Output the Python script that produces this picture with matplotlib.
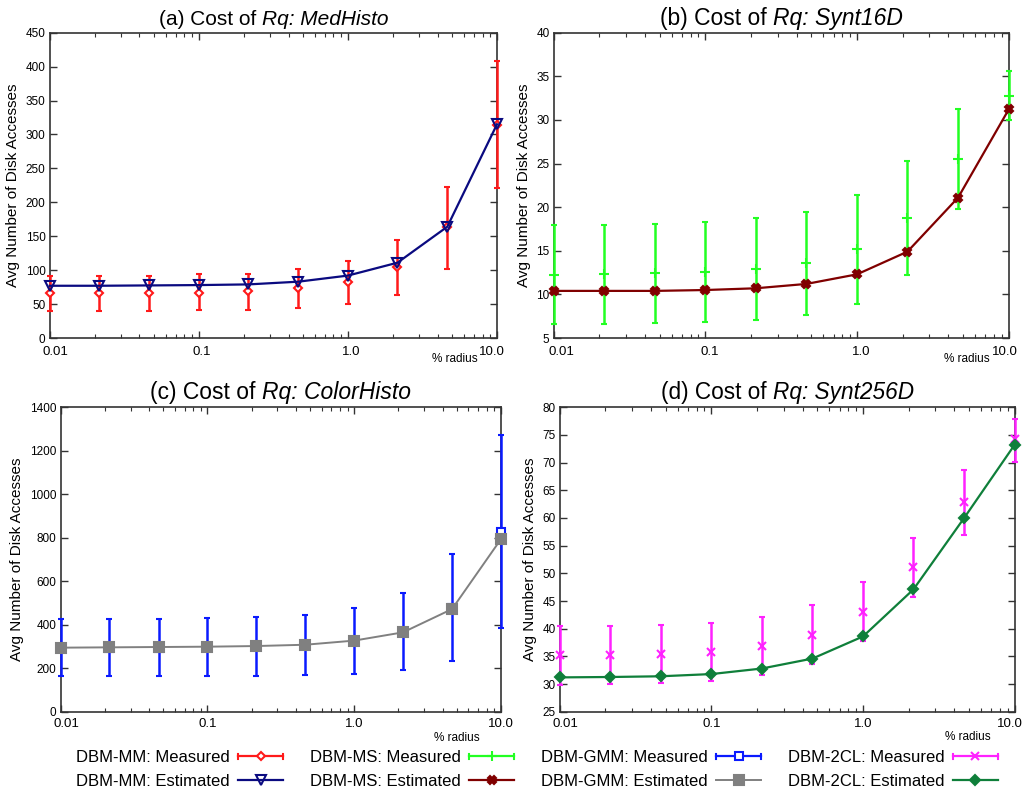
import matplotlib
matplotlib.use("Agg")
import matplotlib.pyplot as plt
from matplotlib.lines import Line2D
from matplotlib.legend_handler import HandlerBase
from matplotlib.ticker import FixedLocator, LogLocator, NullFormatter, MultipleLocator

plt.rcParams['font.family'] = ['Liberation Sans', 'DejaVu Sans']

# ---------------- data ----------------
radius = [0.01, 0.0215, 0.0464, 0.1, 0.215, 0.464, 1.0, 2.15, 4.64, 10.0]

# (a) MedHisto
mm_meas = [66, 66, 66, 67, 69, 73, 82, 104.5, 164, 314]
mm_lo = [40, 40, 40, 41, 42, 44.5, 50, 64, 102, 221]
mm_hi = [91, 91, 92, 94, 95, 101, 114, 145, 223, 409]
mm_est = [77, 77, 77.5, 78, 79, 83, 92, 111, 164, 315]

# (b) Synt16D
ms_meas = [12.25, 12.3, 12.4, 12.55, 12.9, 13.55, 15.15, 18.7, 25.5, 32.8]
ms_lo = [6.6, 6.6, 6.7, 6.8, 7.1, 7.6, 8.9, 12.2, 19.8, 30.0]
ms_hi = [17.9, 18.0, 18.1, 18.3, 18.7, 19.5, 21.45, 25.3, 31.2, 35.65]
ms_est = [10.4, 10.4, 10.4, 10.5, 10.7, 11.2, 12.3, 14.9, 21.1, 31.2]

# (c) ColorHisto
gmm_meas = [294, 294, 295, 297.5, 301, 307.5, 325, 368, 479, 828]
gmm_lo = [163, 163, 164, 164, 166, 169, 175, 192, 233, 386]
gmm_hi = [425, 425, 426, 431, 436, 446, 475, 544, 725, 1273]
gmm_est = [294.5, 296, 297.5, 299, 302, 308, 327, 365, 472, 794]

# (d) Synt256D
cl_meas = [35.2, 35.2, 35.4, 35.8, 36.8, 38.9, 43.0, 51.1, 62.8, 74.2]
cl_lo = [29.9, 30.0, 30.1, 30.5, 31.6, 33.55, 37.8, 45.8, 57.0, 70.2]
cl_hi = [40.4, 40.4, 40.7, 41.1, 42.1, 44.2, 48.4, 56.4, 68.7, 77.8]
cl_est = [31.2, 31.27, 31.4, 31.8, 32.8, 34.6, 38.6, 47.1, 60.0, 73.25]

xtick_vals = [0.01, 0.1, 1.0, 10.0]
xtick_labels = ['0.01', '0.1', '1.0', '10.0']

W, H = 1025, 790
fig = plt.figure(figsize=(W / 100, H / 100), dpi=100)
renderer = fig.canvas.get_renderer()


def add_ax(l, t, r, b):
    return fig.add_axes([l / W, 1 - b / H, (r - l) / W, (b - t) / H])


class HandlerCapLine(HandlerBase):
    def create_artists(self, legend, orig, xdescent, ydescent, width, height, fontsize, trans):
        y = (height - ydescent) / 2.0
        x0, x1 = -xdescent, width - xdescent
        col = orig.get_color()
        lw = orig.get_linewidth()
        c = 0.2 * height
        line = Line2D([x0, x1], [y, y], color=col, lw=lw)
        cap1 = Line2D([x0, x0], [y - c, y + c], color=col, lw=1.5)
        cap2 = Line2D([x1, x1], [y - c, y + c], color=col, lw=1.5)
        mk = Line2D([(x0 + x1) / 2], [y], ls='none', marker=orig.get_marker(), ms=orig.get_markersize(),
                    mfc=orig.get_markerfacecolor(), mec=orig.get_markeredgecolor(),
                    mew=orig.get_markeredgewidth())
        arts = [line, cap1, cap2, mk]
        for a in arts:
            a.set_transform(trans)
        return arts


def mixed_title(ax, parts, fontsize, gap_px):
    """Title centred over the axes, made of upright and italic pieces."""
    def width_of(s, style):
        t = fig.text(0, 0, s + '|', fontsize=fontsize, style=style)
        t2 = fig.text(0, 0, '|', fontsize=fontsize, style=style)
        w = t.get_window_extent(renderer).width - t2.get_window_extent(renderer).width
        t.remove(); t2.remove()
        return w
    widths = [width_of(s, st) for s, st in parts]
    total = sum(widths)
    bb = ax.get_position()
    xc = (bb.x0 + bb.x1) / 2 * W
    ytop = bb.y1 * H + gap_px
    x = xc - total / 2
    for (s, st), w in zip(parts, widths):
        fig.text(x / W, ytop / H, s, fontsize=fontsize, style=st, ha='left', va='baseline')
        x += w


axes_px = [
    (49.7, 32.7, 497, 338),
    (553.7, 32.7, 1008.7, 338),
    (60.7, 407.3, 501, 711.7),
    (559.7, 407.3, 1014.7, 711.7),
]

panels = [
    dict(tag='(a) Cost of ', name='Rq: MedHisto', tsize=15, meas=mm_meas, lo=mm_lo, hi=mm_hi, est=mm_est,
         ylim=(0, 450), ystep=50, rad_dx=-19, rad_dy=-21, lab_dy=-14, lab_dx=[6, 3, 3, -5],
         mcol='#ff1a1a', mmk='D', mms=4.5, mfc='white',
         ecol='#0a0a80', emk='v', ems=7, efc='none', lab='DBM-MM', lw=1.6),
    dict(tag='(b) Cost of ', name='Rq: Synt16D', tsize=16.5, meas=ms_meas, lo=ms_lo, hi=ms_hi, est=ms_est,
         ylim=(5, 40), ystep=5, rad_dx=-19, rad_dy=-21, lab_dy=-14, lab_dx=[8, 4, 4, -4],
         mcol='#22ff22', mmk='+', mms=7, mfc='none',
         ecol='#800000', emk='X', ems=5.5, efc='#800000', lab='DBM-MS', lw=1.6),
    dict(tag='(c) Cost of ', name='Rq: ColorHisto', tsize=16.5, meas=gmm_meas, lo=gmm_lo, hi=gmm_hi, est=gmm_est,
         ylim=(0, 1400), ystep=200, rad_dx=-21, rad_dy=-26, lab_dy=-12, lab_dx=[6, 0, 0, 0],
         mcol='#0a1aff', mmk='s', mms=6, mfc='white',
         ecol='#808080', emk='s', ems=6.5, efc='#808080', lab='DBM-GMM', lw=1.4),
    dict(tag='(d) Cost of ', name='Rq: Synt256D', tsize=16.3, meas=cl_meas, lo=cl_lo, hi=cl_hi, est=cl_est,
         ylim=(25, 80), ystep=5, rad_dx=-24, rad_dy=-25, lab_dy=-12, lab_dx=[6, 0, 0, -5],
         mcol='#ff22ff', mmk='x', mms=6, mfc='none',
         ecol='#0f7f3a', emk='D', ems=5, efc='#0f7f3a', lab='DBM-2CL', lw=1.6),
]

handles, labels, hmap = [], [], {}
for pos, p in zip(axes_px, panels):
    ax = add_ax(*pos)
    yerr = [[m - l for m, l in zip(p['meas'], p['lo'])], [h - m for m, h in zip(p['meas'], p['hi'])]]
    eb = ax.errorbar(radius, p['meas'], yerr=yerr, fmt=p['mmk'], color=p['mcol'], ms=p['mms'],
                     mfc=p['mfc'], mec=p['mcol'], mew=1.5, elinewidth=1.8, capsize=2.2, capthick=1.5,
                     ecolor=p['mcol'], zorder=3, clip_on=False)
    for a in eb.get_children():
        a.set_clip_on(False)
    ln, = ax.plot(radius, p['est'], marker=p['emk'], color=p['ecol'], lw=p['lw'], ms=p['ems'],
                  mfc=p['efc'], mec=p['ecol'], mew=1.5, zorder=4, clip_on=False)
    proxy = Line2D([], [], color=p['mcol'], lw=1.6, marker=p['mmk'], ms=p['mms'],
                   mfc=p['mfc'], mec=p['mcol'], mew=1.5)
    hmap[proxy] = HandlerCapLine()
    handles += [proxy, ln]
    labels += [p['lab'] + ': Measured', p['lab'] + ': Estimated']

    ax.set_xscale('log')
    ax.set_xlim(0.01, 10.0)
    ax.set_ylim(*p['ylim'])
    ax.xaxis.set_major_locator(FixedLocator(xtick_vals))
    ax.xaxis.set_major_formatter(NullFormatter())
    for v, s, dx in zip(xtick_vals, xtick_labels, p['lab_dx']):
        ax.annotate(s, xy=(v, 0), xycoords=('data', 'axes fraction'), xytext=(dx, p['lab_dy']),
                    textcoords='offset pixels', ha='center', va='center', fontsize=9.5,
                    annotation_clip=False)
    ax.xaxis.set_minor_locator(LogLocator(base=10, subs=range(2, 10)))
    ax.xaxis.set_minor_formatter(NullFormatter())
    ax.yaxis.set_major_locator(MultipleLocator(p['ystep']))
    ax.tick_params(axis='both', which='both', direction='in', top=True, right=True, color='#333333')
    ax.tick_params(axis='x', which='major', length=5, width=1)
    ax.tick_params(axis='x', which='minor', length=3, width=0.8)
    ax.tick_params(axis='y', which='major', length=5, width=1, labelsize=8.5, pad=3)
    for s in ax.spines.values():
        s.set_color('#333333')
        s.set_linewidth(1.2)
    ax.set_ylabel('Avg Number of Disk Accesses', fontsize=11, labelpad=4)
    mixed_title(ax, [(p['tag'], 'normal'), (p['name'], 'italic')], p['tsize'], 8)
    ax.annotate('% radius', xy=(1, 0), xycoords='axes fraction', xytext=(p['rad_dx'], p['rad_dy']),
                textcoords='offset pixels', ha='right', va='center', fontsize=8.5)

fig.legend(handles, labels, handler_map=hmap, ncol=4, loc='center',
           bbox_to_anchor=(537 / W, 1 - 769.5 / H),
           frameon=False, markerfirst=False, fontsize=12, handlelength=2.7, handletextpad=0.5,
           columnspacing=1.6, labelspacing=0.5)

fig.savefig('out.png', dpi=100)
